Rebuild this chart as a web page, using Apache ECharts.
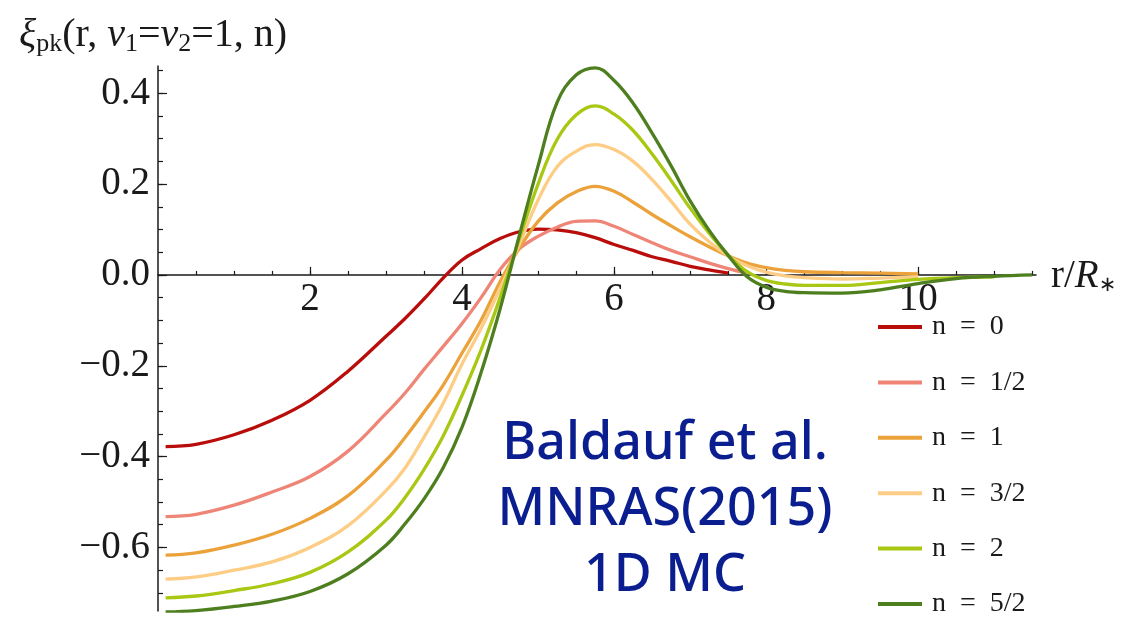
<!DOCTYPE html>
<html>
<head>
<meta charset="utf-8">
<script src="https://cdn.jsdelivr.net/npm/echarts@6/dist/echarts.min.js"></script>
<style>
html,body{margin:0;padding:0;background:#fff;}
#chart{width:1121px;height:629px;}
</style>
</head>
<body>
<div id="chart"></div>
<script>
// r / R* sample positions
const xs = [0.1, 0.5, 1.0, 1.5, 2.0, 2.5, 3.0, 3.25, 3.5, 3.75, 4.0, 4.25, 4.5, 4.75, 5.0, 5.25, 5.5, 5.75, 6.0, 6.25, 6.5, 6.75, 7.0, 7.25, 7.5, 7.75, 8.0, 8.25, 8.5, 9.0, 9.5, 10.0, 10.5, 11.0, 11.5];

const n0 = [-0.378, -0.373, -0.352, -0.320, -0.276, -0.212, -0.135, -0.096, -0.053, -0.007, 0.033, 0.058, 0.080, 0.095, 0.101, 0.099, 0.093, 0.082, 0.067, 0.054, 0.040, 0.030, 0.019, 0.011, 0.004, null, null, null, null, null, null, null, null, null, null];
const n05 = [-0.532, -0.527, -0.507, -0.478, -0.444, -0.388, -0.305, -0.260, -0.208, -0.158, -0.107, -0.050, 0.012, 0.057, 0.085, 0.105, 0.118, 0.119, 0.107, 0.089, 0.071, 0.054, 0.040, 0.026, 0.014, 0.004, null, null, null, null, null, null, null, null, null];
const n1 = [-0.617, -0.612, -0.595, -0.571, -0.536, -0.486, -0.408, -0.358, -0.302, -0.243, -0.172, -0.100, -0.015, 0.058, 0.118, 0.158, 0.183, 0.195, 0.184, 0.160, 0.133, 0.108, 0.084, 0.062, 0.042, 0.026, 0.016, 0.010, 0.007, 0.005, 0.004, 0.002, null, null, null];
const n15 = [-0.670, -0.665, -0.650, -0.632, -0.600, -0.552, -0.475, -0.425, -0.357, -0.283, -0.196, -0.118, -0.030, 0.066, 0.165, 0.238, 0.272, 0.287, 0.276, 0.250, 0.210, 0.162, 0.112, 0.073, 0.042, 0.020, 0.006, -0.002, -0.006, -0.009, -0.007, -0.004, null, null, null];
const n2 = [-0.711, -0.707, -0.695, -0.680, -0.655, -0.610, -0.540, -0.490, -0.428, -0.355, -0.265, -0.165, -0.050, 0.078, 0.200, 0.298, 0.352, 0.372, 0.354, 0.318, 0.266, 0.208, 0.147, 0.092, 0.044, 0.007, -0.012, -0.020, -0.023, -0.023, -0.017, -0.010, -0.006, -0.004, null];
const n25 = [-0.742, -0.739, -0.730, -0.718, -0.697, -0.658, -0.595, -0.548, -0.493, -0.425, -0.335, -0.215, -0.075, 0.085, 0.240, 0.380, 0.440, 0.456, 0.428, 0.378, 0.312, 0.240, 0.163, 0.098, 0.043, -0.004, -0.027, -0.036, -0.039, -0.040, -0.033, -0.019, -0.008, -0.003, 0.000];

const seriesNames = ['n = 0', 'n = 1/2', 'n = 1', 'n = 3/2', 'n = 2', 'n = 5/2'];
const seriesValues = [n0, n05, n1, n15, n2, n25];
const seriesColors = ['#b80d0a', '#ee8577', '#eca23a', '#fdcd85', '#a8c814', '#4e7f1f'];

const xLabelValues = [2, 4, 6, 8, 10];
const xMinorValues = [0.5, 1, 1.5, 2, 2.5, 3, 3.5, 4, 4.5, 5, 5.5, 6, 6.5, 7, 7.5, 8, 8.5, 9, 9.5, 10, 10.5, 11, 11.5];
const yLabelValues = [-0.6, -0.4, -0.2, 0, 0.2, 0.4];
const yMinorValues = [-0.7, -0.65, -0.6, -0.55, -0.5, -0.45, -0.4, -0.35, -0.3, -0.25, -0.2, -0.15, -0.1, -0.05, 0, 0.05, 0.1, 0.15, 0.2, 0.25, 0.3, 0.35, 0.4, 0.45];

const annotationLines = ['Baldauf et al.', 'MNRAS(2015)', '1D MC'];

const serif = 'Liberation Serif';
const ink = '#1a1a1a';
const X_MIN = 0, X_MAX = 11.55, Y_MIN = -0.74, Y_MAX = 0.46;

// grid layout (pixels)
const W = 1121, H = 629;
const G = {left: 158, right: 85, top: 66, bottom: 18};
const gridH = H - G.top - G.bottom;
// move the x axis up from the grid bottom to the y = 0 line
const zeroOffset = -(gridH * (0 - Y_MIN) / (Y_MAX - Y_MIN));

const chart = echarts.init(document.getElementById('chart'), null, {renderer: 'canvas'});

const fmtY = v => (v < -1e-9 ? '\u2212' : '') + Math.abs(v).toFixed(1);

const option = {
  animation: false,
  backgroundColor: '#fff',
  title: {
    left: 14, top: 8,
    text: '{i|ξ}{s|pk}{n|(r, }{i|ν}{s|1}{n|=}{i|ν}{s|2}{n|=1, n)}',
    textStyle: {
      fontWeight: 'normal',
      rich: {
        n: {fontFamily: serif, fontSize: 40, fontWeight: 'normal', color: ink, lineHeight: 44, verticalAlign: 'middle'},
        i: {fontFamily: serif, fontSize: 40, fontWeight: 'normal', fontStyle: 'italic', color: ink, lineHeight: 44, verticalAlign: 'middle'},
        s: {fontFamily: serif, fontSize: 26, fontWeight: 'normal', color: ink, lineHeight: 26, padding: [21, 0, 0, 0], verticalAlign: 'bottom'}
      }
    }
  },
  grid: {left: G.left, right: G.right, top: G.top, bottom: G.bottom, containLabel: false, outerBoundsMode: 'none'},
  legend: {
    orient: 'vertical',
    left: 873, top: 308,
    itemWidth: 44, itemHeight: 4,
    itemGap: 27.4,
    icon: 'rect',
    data: seriesNames,
    formatter: name => name.replace(' = ', '\u2002=\u2002'),
    textStyle: {fontFamily: serif, fontSize: 28, color: ink, lineHeight: 28, padding: [0, 0, 0, 5]}
  },
  xAxis: [
    {
      type: 'value', min: X_MIN, max: X_MAX, position: 'bottom', offset: zeroOffset,
      axisLine: {show: true, onZero: false, lineStyle: {color: ink, width: 1.5}},
      axisTick: {show: true, inside: true, length: 4, lineStyle: {color: ink, width: 1.2}, customValues: xMinorValues},
      axisLabel: {show: true, customValues: xLabelValues, fontFamily: serif, fontSize: 39, color: ink, margin: 5},
      splitLine: {show: false},
      name: '{n|r/}{i|R}{s|∗}',
      nameLocation: 'end', nameGap: 15,
      nameTextStyle: {
        rich: {
          n: {fontFamily: serif, fontSize: 39, color: ink, lineHeight: 42, padding: [6, 0, 0, 0], verticalAlign: 'bottom'},
          i: {fontFamily: serif, fontSize: 39, fontStyle: 'italic', color: ink, lineHeight: 42, padding: [6, 0, 0, 0], verticalAlign: 'bottom'},
          s: {fontFamily: 'DejaVu Sans', fontSize: 21, color: ink, lineHeight: 21, padding: [20, 0, 0, 0], verticalAlign: 'bottom'}
        }
      }
    },
    {
      type: 'value', min: X_MIN, max: X_MAX, position: 'bottom', offset: zeroOffset,
      axisLine: {show: false, onZero: false},
      axisTick: {show: true, inside: true, length: 8, lineStyle: {color: ink, width: 1.2}, customValues: xLabelValues},
      axisLabel: {show: false},
      splitLine: {show: false}
    }
  ],
  yAxis: [
    {
      type: 'value', min: Y_MIN, max: Y_MAX, position: 'left',
      axisLine: {show: true, onZero: false, lineStyle: {color: ink, width: 1.5}},
      axisTick: {show: true, inside: true, length: 5, lineStyle: {color: ink, width: 1.2}, customValues: yMinorValues},
      axisLabel: {show: true, customValues: yLabelValues, formatter: fmtY, fontFamily: serif, fontSize: 39, color: ink, margin: 8},
      splitLine: {show: false}
    },
    {
      type: 'value', min: Y_MIN, max: Y_MAX, position: 'left', offset: 0,
      axisLine: {show: false, onZero: false},
      axisTick: {show: true, inside: true, length: 9, lineStyle: {color: ink, width: 1.2}, customValues: yLabelValues},
      axisLabel: {show: false},
      splitLine: {show: false}
    }
  ],
  graphic: annotationLines.map((t, i) => ({
    type: 'text',
    style: {
      text: t, x: 665, y: 444 + i * 66,
      align: 'center', verticalAlign: 'middle',
      font: '500 52px "Noto Sans"', fill: '#0b1e8f'
    }
  })),
  series: seriesValues.map((vals, k) => ({
    name: seriesNames[k],
    type: 'line',
    xAxisIndex: 0, yAxisIndex: 0,
    data: xs.map((x, i) => [x, vals[i]]),
    showSymbol: false,
    smooth: 0.4,
    connectNulls: false,
    color: seriesColors[k],
    lineStyle: {width: 3.3, color: seriesColors[k]},
    z: 2 + k
  }))
};

chart.setOption(option);
</script>
</body>
</html>
